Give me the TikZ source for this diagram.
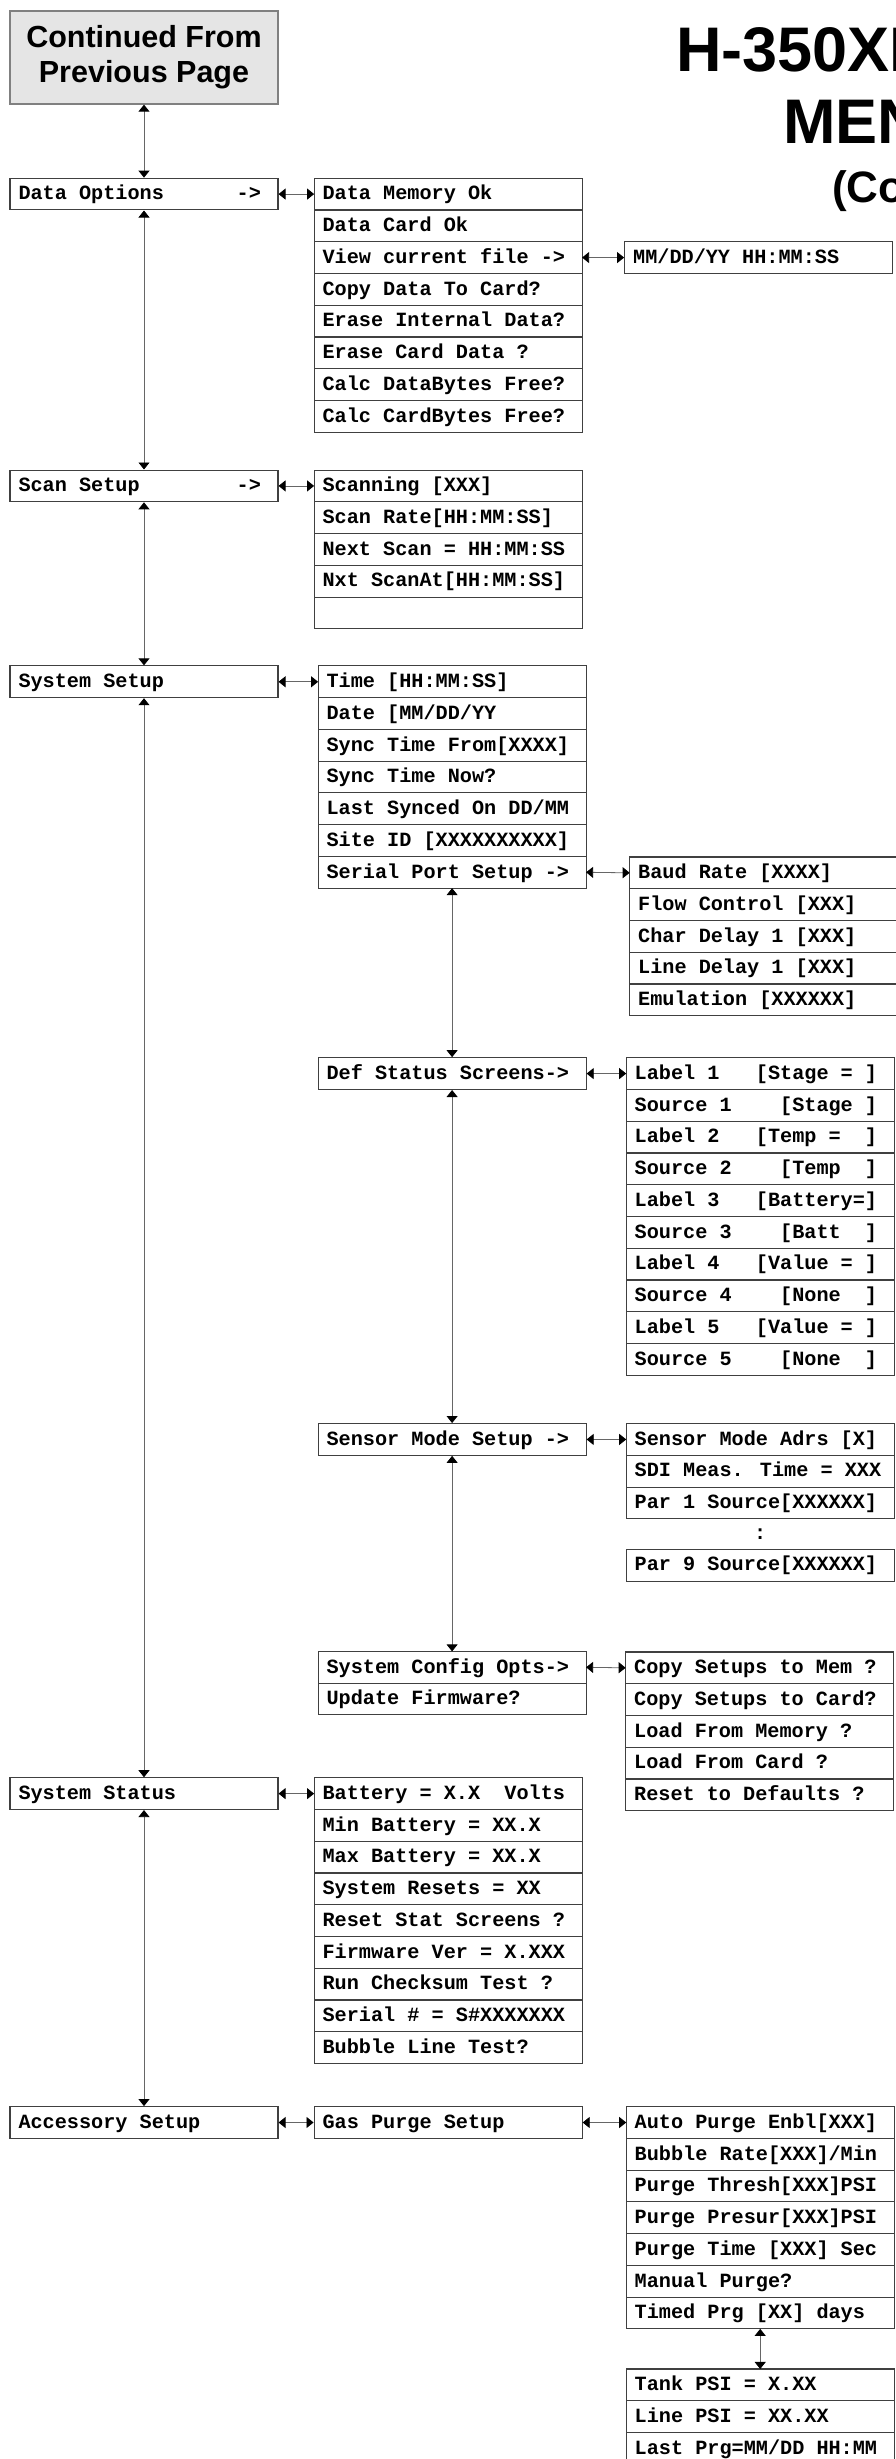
\documentclass[tikz,border=0pt]{standalone}
\usepackage{fontspec}
\usepackage{tikz}
\usetikzlibrary{matrix,arrows.meta,positioning}
\newfontfamily\menumono{Liberation Mono}
\newfontfamily\headsans{Liberation Sans}
\newcommand{\menufont}{\menumono\bfseries\fontsize{20.2pt}{24pt}\selectfont}
\tikzset{
	entry/.style={draw=black!75, line width=1.1pt, fill=white, font=\menufont, text width=251pt, align=justify, execute at begin node={\spaceskip=0pt\xspaceskip=0pt\relax}, inner xsep=8.5pt, inner ysep=0pt, minimum height=31.75pt, text height=14pt, text depth=2.5pt},
	menu/.style={matrix of nodes, row sep=-1.1pt, inner sep=0pt, outer sep=0pt, nodes=entry},
	pagelink/.style={draw=black!50, line width=1.3pt, fill=black!10, font=\headsans\bfseries\fontsize{30.5pt}{35pt}\selectfont, align=center, minimum width=268pt, minimum height=93pt},
	headline/.style={font=\headsans\bfseries\fontsize{63pt}{72pt}\selectfont, inner sep=0pt, anchor=base west},
	subheadline/.style={font=\headsans\bfseries\fontsize{44pt}{50pt}\selectfont, inner sep=0pt, anchor=base west},
	link/.style={draw=black!60, line width=0.8pt, {Triangle[width=11pt,length=7pt,color=black]}-{Triangle[width=11pt,length=7pt,color=black]}},
	gap/.style={font=\menufont, inner sep=0pt, minimum height=29pt, text height=14pt, text depth=2.5pt}
}

\begin{document}
\begin{tikzpicture}[x=1pt,y=-1pt]
	\useasboundingbox (0,0) rectangle (895,2459);
	
	\node[headline] (titlemodel) at (676,72) {H-350XL};
	\node[headline] (titlemenu) at (783,144) {MENU};
	\node[subheadline] (titlecont) at (832,203) {(Continued)};
	
	\node[pagelink] (contd) at (144,57.5) {Continued From\\Previous Page};
	
	% Main menu column is drawn.
	\node[entry] (dataopt) [below=73pt of contd] {Data Options\ \ \ \ \ \ ->};
	\node[entry] (scanset) [below=259pt of dataopt] {Scan Setup\ \ \ \ \ \ \ \ ->};
	\node[entry] (sysset) [below=163pt of scanset] {System Setup};
	\node[entry] (sysstat) [below=1079pt of sysset] {System Status};
	\node[entry] (accset) [below=296pt of sysstat] {Accessory Setup};
	
	\draw[link] (contd.south) -- (dataopt.north);
	\draw[link] (dataopt.south) -- (scanset.north);
	\draw[link] (scanset.south) -- (sysset.north);
	\draw[link] (sysset.south) -- (sysstat.north);
	\draw[link] (sysstat.south) -- (accset.north);
	
	% Data options sub menu is drawn.
	\matrix (datamenu)[menu, below right=0pt and 35pt of dataopt.north east]{
		Data Memory Ok \\ %datamenu-1-1
		Data Card Ok \\ %datamenu-2-1
		View current file -> \\ %datamenu-3-1
		Copy Data To Card? \\ %datamenu-4-1
		Erase Internal Data? \\ %datamenu-5-1
		Erase Card Data ? \\ %datamenu-6-1
		Calc DataBytes Free? \\ %datamenu-7-1
		Calc CardBytes Free? \\ %datamenu-8-1
	};
	\node[entry] (filemenu) [right=42pt of datamenu-3-1] {MM/DD/YY HH:MM:SS};
	
	\draw[link] (dataopt.east) -- (datamenu-1-1.west);
	\draw[link] (datamenu-3-1.east) -- (filemenu.west);
	
	% Scan setup sub menu is drawn.
	\matrix (scanmenu)[menu, below right=0pt and 35pt of scanset.north east]{
		Scanning [XXX] \\ %scanmenu-1-1
		Scan Rate[HH:MM:SS] \\ %scanmenu-2-1
		Next Scan = HH:MM:SS \\ %scanmenu-3-1
		Nxt ScanAt[HH:MM:SS] \\ %scanmenu-4-1
		\mbox{} \\ %scanmenu-5-1
	};
	
	\draw[link] (scanset.east) -- (scanmenu-1-1.west);
	
	% System setup sub menu is drawn.
	\matrix (sysmenu)[menu, below right=0pt and 39pt of sysset.north east]{
		Time [HH:MM:SS] \\ %sysmenu-1-1
		Date [MM/DD/YY \\ %sysmenu-2-1
		Sync Time From[XXXX] \\ %sysmenu-3-1
		Sync Time Now? \\ %sysmenu-4-1
		Last Synced On DD/MM \\ %sysmenu-5-1
		Site ID [XXXXXXXXXX] \\ %sysmenu-6-1
		Serial Port Setup -> \\ %sysmenu-7-1
	};
	
	\matrix (serialmenu)[menu, below right=0pt and 43pt of sysmenu-7-1.north east]{
		Baud Rate [XXXX] \\ %serialmenu-1-1
		Flow Control [XXX] \\ %serialmenu-2-1
		Char Delay 1 [XXX] \\ %serialmenu-3-1
		Line Delay 1 [XXX] \\ %serialmenu-4-1
		Emulation [XXXXXX] \\ %serialmenu-5-1
	};
	
	\draw[link] (sysset.east) -- (sysmenu-1-1.west);
	\draw[link] (sysmenu-7-1.east) -- (serialmenu-1-1.west);
	
	% Status screens, sensor mode and config opts are drawn.
	\node[entry] (statusset) [below=169pt of sysmenu-7-1] {Def Status Screens->};
	\matrix (labelmenu)[menu, below right=0pt and 39pt of statusset.north east]{
		Label 1\ \ \ [Stage = ] \\ %labelmenu-1-1
		Source 1\ \ \ \ [Stage ] \\ %labelmenu-2-1
		Label 2\ \ \ [Temp =\ \ ] \\ %labelmenu-3-1
		Source 2\ \ \ \ [Temp\ \ ] \\ %labelmenu-4-1
		Label 3\ \ \ [Battery=] \\ %labelmenu-5-1
		Source 3\ \ \ \ [Batt\ \ ] \\ %labelmenu-6-1
		Label 4\ \ \ [Value = ] \\ %labelmenu-7-1
		Source 4\ \ \ \ [None\ \ ] \\ %labelmenu-8-1
		Label 5\ \ \ [Value = ] \\ %labelmenu-9-1
		Source 5\ \ \ \ [None\ \ ] \\ %labelmenu-10-1
	};
	
	\node[entry] (sensorset) [below=333pt of statusset] {Sensor Mode Setup ->};
	\matrix (sensormenu)[menu, below right=0pt and 39pt of sensorset.north east]{
		Sensor Mode Adrs [X] \\ %sensormenu-1-1
		SDI Meas. Time = XXX \\ %sensormenu-2-1
		Par 1 Source[XXXXXX] \\ %sensormenu-3-1
	};
	\node[gap] (parcolon) [below=0pt of sensormenu] {:};
	\node[entry] (par9) [below=0pt of parcolon] {Par 9 Source[XXXXXX]};
	
	\matrix (configmenu)[menu, below=195pt of sensorset]{
		System Config Opts-> \\ %configmenu-1-1
		Update Firmware? \\ %configmenu-2-1
	};
	\matrix (setupsmenu)[menu, below right=0pt and 39pt of configmenu-1-1.north east]{
		Copy Setups to Mem ? \\ %setupsmenu-1-1
		Copy Setups to Card? \\ %setupsmenu-2-1
		Load From Memory ? \\ %setupsmenu-3-1
		Load From Card ? \\ %setupsmenu-4-1
		Reset to Defaults ? \\ %setupsmenu-5-1
	};
	
	\draw[link] (sysmenu-7-1.south) -- (statusset.north);
	\draw[link] (statusset.south) -- (sensorset.north);
	\draw[link] (sensorset.south) -- (configmenu-1-1.north);
	\draw[link] (statusset.east) -- (labelmenu-1-1.west);
	\draw[link] (sensorset.east) -- (sensormenu-1-1.west);
	\draw[link] (configmenu-1-1.east) -- (setupsmenu-1-1.west);
	
	% System status sub menu is drawn.
	\matrix (statmenu)[menu, below right=0pt and 35pt of sysstat.north east]{
		Battery = X.X\ \ Volts \\ %statmenu-1-1
		Min Battery = XX.X \\ %statmenu-2-1
		Max Battery = XX.X \\ %statmenu-3-1
		System Resets = XX \\ %statmenu-4-1
		Reset Stat Screens ? \\ %statmenu-5-1
		Firmware Ver = X.XXX \\ %statmenu-6-1
		Run Checksum Test ? \\ %statmenu-7-1
		Serial \# = S\#XXXXXXX \\ %statmenu-8-1
		Bubble Line Test? \\ %statmenu-9-1
	};
	
	\draw[link] (sysstat.east) -- (statmenu-1-1.west);
	
	% Accessory setup sub menu is drawn.
	\node[entry] (gasset) [right=35pt of accset] {Gas Purge Setup};
	\matrix (purgemenu)[menu, below right=0pt and 43pt of gasset.north east]{
		Auto Purge Enbl[XXX] \\ %purgemenu-1-1
		Bubble Rate[XXX]/Min \\ %purgemenu-2-1
		Purge Thresh[XXX]PSI \\ %purgemenu-3-1
		Purge Presur[XXX]PSI \\ %purgemenu-4-1
		Purge Time [XXX] Sec \\ %purgemenu-5-1
		Manual Purge? \\ %purgemenu-6-1
		Timed Prg [XX] days \\ %purgemenu-7-1
	};
	\matrix (tankmenu)[menu, below=39pt of purgemenu]{
		Tank PSI = X.XX \\ %tankmenu-1-1
		Line PSI = XX.XX \\ %tankmenu-2-1
		Last Prg=MM/DD HH:MM \\ %tankmenu-3-1
	};
	
	\draw[link] (accset.east) -- (gasset.west);
	\draw[link] (gasset.east) -- (purgemenu-1-1.west);
	\draw[link] (purgemenu-7-1.south) -- (tankmenu-1-1.north);
	
\end{tikzpicture}
\end{document}
